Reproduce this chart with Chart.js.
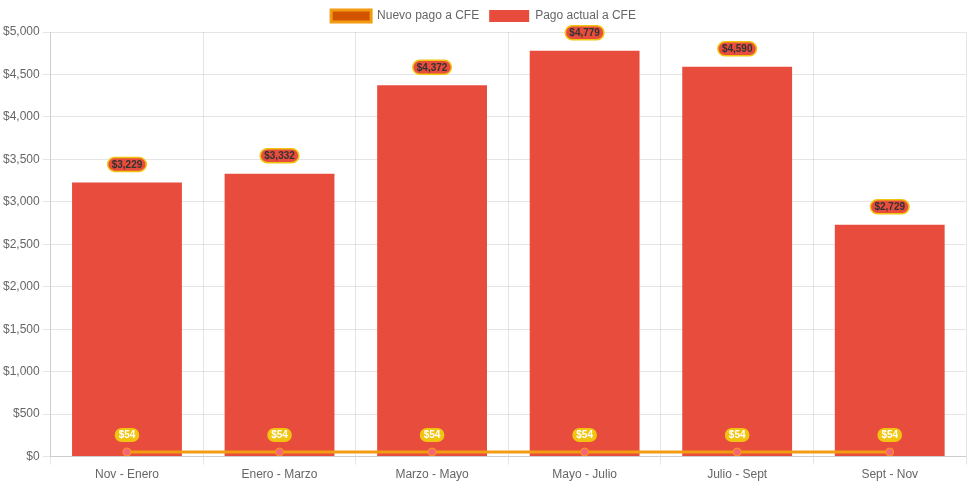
<!DOCTYPE html>
<html><head><meta charset="utf-8">
<script src="https://cdn.jsdelivr.net/npm/chart.js@4"></script>
<style>html,body{margin:0;padding:0;background:#fff}#wrap{width:971px;height:485px}</style>
</head><body><div id="wrap"><canvas id="c"></canvas></div>
<script>
const categories = ['Nov - Enero','Enero - Marzo','Marzo - Mayo','Mayo - Julio','Julio - Sept','Sept - Nov'];
const nuevoPago = [54,54,54,54,54,54];
const pagoActual = [3229,3332,4372,4779,4590,2729];
const fmt = v => '$' + v.toLocaleString('en-US');

const labelPlugin = {
  id: 'labels',
  afterDatasetsDraw(chart) {
    const ctx = chart.ctx;
    chart.data.datasets.forEach((ds, di) => {
      const meta = chart.getDatasetMeta(di);
      if (meta.hidden) return;
      const st = ds.labelStyle;
      meta.data.forEach((el, i) => {
        const txt = fmt(ds.data[i]);
        ctx.save();
        ctx.font = 'bold 10px Arial, "Liberation Sans", sans-serif';
        const w = ctx.measureText(txt).width + 8;
        const h = 14;
        const x = el.x, y = el.y - st.offset;
        ctx.beginPath();
        ctx.roundRect(x - w/2, y - h/2, w, h, 7);
        ctx.fillStyle = st.bg; ctx.fill();
        if (st.border) { ctx.lineWidth = 1.5; ctx.strokeStyle = st.border; ctx.stroke(); }
        ctx.fillStyle = st.color; ctx.textAlign = 'center'; ctx.textBaseline = 'middle';
        ctx.fillText(txt, x, y + 0.5);
        ctx.restore();
      });
    });
  }
};

Chart.defaults.font.family = 'Arial, "Liberation Sans", sans-serif';
Chart.defaults.font.size = 12;
Chart.defaults.color = '#666';

new Chart(document.getElementById('c'), {
  data: {
    labels: categories,
    datasets: [
      { type: 'line', label: 'Nuevo pago a CFE', data: nuevoPago, borderColor: '#f39c12', backgroundColor: '#d35400',
        borderWidth: 3, pointRadius: 4, pointBackgroundColor: '#f7657a', pointBorderColor: '#f39c12', pointBorderWidth: 1,
        fill: false, order: 0, labelStyle: { bg: '#f1c40f', color: '#fff', border: null, offset: 17 } },
      { type: 'bar', label: 'Pago actual a CFE', data: pagoActual, backgroundColor: '#e74c3c', borderWidth: 0, order: 1,
        labelStyle: { bg: '#e74c3c', color: '#333', border: '#f1c40f', offset: 18 } }
    ]
  },
  options: {
    responsive: true, maintainAspectRatio: false, animation: false,
    layout: { padding: { right: 4 } },
    plugins: {
      legend: { labels: { boxWidth: 40, boxHeight: 12, padding: 10 } },
      tooltip: { enabled: false }
    },
    scales: {
      x: { grid: { color: 'rgba(0,0,0,0.1)' } },
      y: { min: 0, max: 5000, ticks: { stepSize: 500, callback: v => fmt(v) }, grid: { color: 'rgba(0,0,0,0.1)' } }
    }
  },
  plugins: [labelPlugin]
});
</script></body></html>
